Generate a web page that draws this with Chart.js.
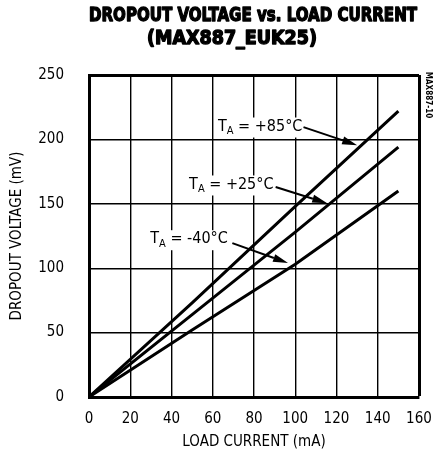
<!DOCTYPE html>
<html><head><meta charset="utf-8">
<script src="https://cdn.jsdelivr.net/npm/chart.js@4"></script>
<style>html,body{margin:0;padding:0;background:#fff}#wrap{width:434px;height:458px}</style>
</head><body><div id="wrap"><canvas id="c" width="434" height="458"></canvas></div>
<script>
const xTicks = [0, 20, 40, 60, 80, 100, 120, 140, 160];
const yTicks = [0, 50, 100, 150, 200, 250];
const loadCurrent = [0, 50, 100, 150];
const vdrop85 = [0, 73, 148, 222];
const vdrop25 = [0, 64, 128, 194];
const vdropM40 = [0, 52, 103, 160];
const seriesLabels = ['+85°C', '+25°C', '-40°C'];
// label anchor (mA, mV) and arrow from/to (mA, mV)
const labelPos = [[83, 210], [69, 165], [48.5, 122.5]];
const arrowFrom = [[104, 209.5], [90.5, 163], [69.5, 119.5]];
const arrowTo = [[130, 195.5], [115.5, 150.5], [96.5, 104]];

const FONT = '"Liberation Sans Narrow","DejaVu Sans Condensed","Liberation Sans",sans-serif';

function pts(ys){ return loadCurrent.map((x,i)=>({x:x,y:ys[i]})); }

function fitText(ctx, text, cx, cy, width){
  const w = ctx.measureText(text).width;
  ctx.save(); ctx.translate(cx, cy); ctx.scale(width / w, 1);
  ctx.lineWidth = 1.3; ctx.lineJoin = 'round';
  ctx.strokeText(text, 0, 0);
  ctx.fillText(text, 0, 0); ctx.restore();
}

const deco = {
  id: 'deco',
  afterDraw(chart){
    const ctx = chart.ctx, xs = chart.scales.x, ys = chart.scales.y;
    ctx.save();
    ctx.fillStyle = '#000'; ctx.strokeStyle = '#000';
    ctx.textAlign = 'center'; ctx.textBaseline = 'middle';
    ctx.font = 'bold 19px ' + FONT;
    fitText(ctx, 'DROPOUT VOLTAGE vs. LOAD CURRENT', 253, 16, 328);
    fitText(ctx, '(MAX887_EUK25)', 232, 39, 170);
    // side code
    ctx.save();
    ctx.translate(428, 95); ctx.rotate(Math.PI/2);
    ctx.font = 'bold 8px ' + FONT;
    ctx.fillText('MAX887-10', 0, 0);
    ctx.restore();
    // annotations
    for (let i = 0; i < seriesLabels.length; i++){
      const px = xs.getPixelForValue(labelPos[i][0]);
      const py = ys.getPixelForValue(labelPos[i][1]);
      const big = '16px ' + FONT, small = '11px ' + FONT;
      ctx.font = big; const wT = ctx.measureText('T').width;
      ctx.font = small; const wA = ctx.measureText('A').width;
      ctx.font = big; const rest = ' = ' + seriesLabels[i];
      const wR = ctx.measureText(rest).width;
      const total = wT + wA + wR;
      let x0 = px - total/2;
      ctx.fillStyle = '#fff';
      ctx.fillRect(x0 - 2, py - 9, total + 4, 20);
      ctx.fillStyle = '#000';
      ctx.textAlign = 'left';
      ctx.font = big; ctx.fillText('T', x0, py);
      ctx.font = small; ctx.fillText('A', x0 + wT, py + 5);
      ctx.font = big; ctx.fillText(rest, x0 + wT + wA, py);
      // arrow
      const ax = xs.getPixelForValue(arrowFrom[i][0]), ay = ys.getPixelForValue(arrowFrom[i][1]);
      const bx = xs.getPixelForValue(arrowTo[i][0]), by = ys.getPixelForValue(arrowTo[i][1]);
      const ang = Math.atan2(by - ay, bx - ax);
      const hl = 15, hw = 4;
      ctx.lineWidth = 2;
      ctx.beginPath(); ctx.moveTo(ax, ay);
      ctx.lineTo(bx - hl*Math.cos(ang), by - hl*Math.sin(ang)); ctx.stroke();
      ctx.beginPath();
      ctx.moveTo(bx, by);
      ctx.lineTo(bx - hl*Math.cos(ang) + hw*Math.sin(ang), by - hl*Math.sin(ang) - hw*Math.cos(ang));
      ctx.lineTo(bx - hl*Math.cos(ang) - hw*Math.sin(ang), by - hl*Math.sin(ang) + hw*Math.cos(ang));
      ctx.closePath(); ctx.fill();
      ctx.textAlign = 'center';
    }
    ctx.restore();
  }
};

const ds = (data) => ({data: pts(data), borderColor:'#000', borderWidth:3, pointRadius:0, showLine:true, fill:false, tension:0});

new Chart(document.getElementById('c'), {
  type: 'scatter',
  data: { datasets: [ds(vdrop85), ds(vdrop25), ds(vdropM40)] },
  options: {
    responsive: false, animation: false, devicePixelRatio: 1,
    layout: { padding: { top: 75, right: 5, left: 0, bottom: 7 } },
    plugins: { legend: {display:false}, tooltip: {enabled:false}, title: {display:false} },
    scales: {
      x: {
        type: 'linear', min: 0, max: 160,
        afterBuildTicks: (s) => { s.ticks = xTicks.map(v => ({value:v})); },
        afterFit: (s) => { s.height = 54; s.paddingRight = 15; s.paddingLeft = 0; },
        ticks: { color:'#000', padding: 13, font: {family: FONT, size: 15}, maxRotation:0 },
        grid: { color:'#000', lineWidth: (c) => (c.tick && c.tick.value === 160) ? 3 : 1.4, drawTicks:false },
        border: { display:true, color:'#000', width:3 },
        title: { display:true, text:'LOAD CURRENT (mA)', color:'#000', font:{family:FONT, size:15}, padding:{top:0, bottom:0} }
      },
      y: {
        type: 'linear', min: 0, max: 250,
        afterBuildTicks: (s) => { s.ticks = yTicks.map(v => ({value:v})); },
        afterFit: (s) => { s.width = 89; },
        ticks: { color:'#000', padding: 25, font: {family: FONT, size: 15} },
        grid: { color:'#000', lineWidth: (c) => (c.tick && c.tick.value === 250) ? 3 : 1.4, drawTicks:false },
        border: { display:true, color:'#000', width:3 },
        title: { display:true, text:'DROPOUT VOLTAGE (mV)', color:'#000', font:{family:FONT, size:15}, padding:{top:8, bottom:0} }
      }
    }
  },
  plugins: [deco]
});
</script>
</body></html>
